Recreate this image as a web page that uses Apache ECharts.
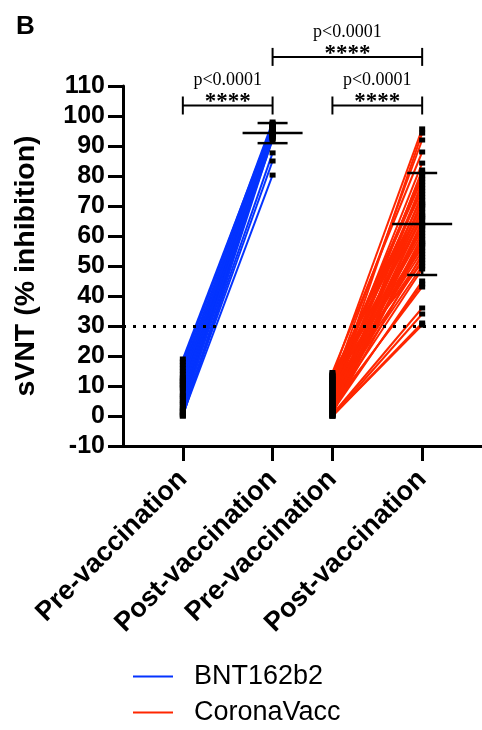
<!DOCTYPE html>
<html>
<head>
<meta charset="utf-8">
<script src="https://cdn.jsdelivr.net/npm/echarts@6/dist/echarts.min.js"></script>
<style>
html,body{margin:0;padding:0;background:#fff;}
#chart{width:482px;height:730px;}
</style>
</head>
<body>
<div id="chart"></div>
<script>
// ---- data ----
var categories = ['Pre-vaccination', 'Post-vaccination', 'Pre-vaccination', 'Post-vaccination'];
var categoryX = [2, 5, 7, 10];           // axis positions of the four columns
var yTicks = { min: -10, max: 110, step: 10 };
var threshold = 30;

var bntPre  = [19, 18, 17, 16, 15, 14, 12.5, 12, 11, 10.5, 10, 9.5, 9, 8, 7, 6.5, 6, 5, 4.5, 4, 3, 2.5, 2, 1.5, 1, 0.5, 0, 0, 13, 11.5];
var bntPost = [97, 96, 98, 95, 96.5, 97, 94, 95.5, 96, 93, 97.5, 94.5, 96, 95, 93.5, 97, 92, 96, 94, 95, 93, 96.5, 97, 87.7, 85, 80.3, 94, 92.5, 95, 96];

var cvPre  = [14.5, 14, 13.5, 13, 12.5, 12, 11.5, 11, 10.5, 10, 9.5, 9, 8.5, 8, 7.5, 7, 6.5, 6, 5.5, 5, 4.5, 4, 3.5, 3, 2.5, 2, 1.5, 1, 0.5, 0, 0, 0.5, 1, 2, 3, 4, 5, 6, 7, 8, 9, 10, 11, 12, 13, 1.5, 2.5, 3.5, 0, 0];
var cvPost = [88, 70, 95.7, 75, 66, 80, 62, 92, 58, 73, 68, 84.3, 55, 77, 61, 94.3, 52, 69, 64, 82, 57, 71, 49, 66.5, 74, 60, 54, 63.5, 36, 30.3, 78, 65, 59, 72, 63, 57.5, 67, 50, 76, 70.5, 81, 53, 79, 56, 51, 45, 44, 43, 34, 31];

var postMean = [94.3, 64];
var postSD   = [3.35, 17];

var groupNames = ['BNT162b2', 'CoronaVacc'];
var groupColors = ['#0433FF', '#FF2600'];

var brackets = [[2, 5, 103.5], [7, 10, 103.5], [5, 10, 119.7]];
var pLabels = ['p<0.0001', 'p<0.0001', 'p<0.0001'];
var starLabels = ['****', '****', '****'];

// ---- build option ----
var FONT = 'Liberation Sans, Arial, sans-serif';
var series = [];
function addPairs(pre, post, xi, name, color) {
  for (var i = 0; i < pre.length; i++) {
    series.push({
      type: 'line', name: name, silent: true, symbol: 'none', showSymbol: false, z: 2,
      data: [[categoryX[xi], pre[i]], [categoryX[xi + 1], post[i]]],
      lineStyle: { width: 2, color: color }, itemStyle: { color: color }
    });
  }
}
addPairs(bntPre, bntPost, 0, groupNames[0], groupColors[0]);
addPairs(cvPre, cvPost, 2, groupNames[1], groupColors[1]);

var pts = [];
bntPre.forEach(function (v) { pts.push([categoryX[0], v]); });
bntPost.forEach(function (v) { pts.push([categoryX[1], v]); });
cvPre.forEach(function (v) { pts.push([categoryX[2], v]); });
cvPost.forEach(function (v) { pts.push([categoryX[3], v]); });
series.push({
  type: 'scatter', silent: true, z: 5, symbol: 'rect', symbolSize: [6, 5],
  itemStyle: { color: '#000', opacity: 1 }, data: pts,
  markLine: {
    silent: true, symbol: 'none', animation: false,
    label: { show: false },
    lineStyle: { color: '#000', width: 3, type: [3, 7], opacity: 1 },
    data: [{ yAxis: threshold }]
  }
});

var errData = [[categoryX[1], postMean[0], postSD[0]], [categoryX[3], postMean[1], postSD[1]]];
series.push({
  type: 'custom', silent: true, z: 6, data: errData, encode: { x: 0, y: 1 },
  renderItem: function (params, api) {
    var x = api.value(0), m = api.value(1), s = api.value(2);
    var c = api.coord([x, m]), t = api.coord([x, m + s]), b = api.coord([x, m - s]);
    var st = { stroke: '#000', lineWidth: 2.5 };
    return { type: 'group', children: [
      { type: 'line', shape: { x1: c[0] - 30, y1: c[1], x2: c[0] + 30, y2: c[1] }, style: st },
      { type: 'line', shape: { x1: c[0], y1: t[1], x2: c[0], y2: b[1] }, style: st },
      { type: 'line', shape: { x1: c[0] - 15, y1: t[1], x2: c[0] + 15, y2: t[1] }, style: st },
      { type: 'line', shape: { x1: c[0] - 15, y1: b[1], x2: c[0] + 15, y2: b[1] }, style: st }
    ]};
  }
});

series.push({
  type: 'custom', silent: true, z: 6, clip: false,
  data: brackets.map(function (b, i) { return [b[0], b[2], b[1], i]; }),
  encode: { x: 0, y: 1 },
  renderItem: function (params, api) {
    var x1 = api.value(0), y = api.value(1), x2 = api.value(2), i = api.value(3);
    var a = api.coord([x1, y]), b = api.coord([x2, y]);
    var st = { stroke: '#000', lineWidth: 2 };
    var mid = (a[0] + b[0]) / 2;
    return { type: 'group', children: [
      { type: 'line', shape: { x1: a[0], y1: a[1], x2: b[0], y2: b[1] }, style: st },
      { type: 'line', shape: { x1: a[0], y1: a[1] - 9, x2: a[0], y2: a[1] + 9 }, style: st },
      { type: 'line', shape: { x1: b[0], y1: b[1] - 9, x2: b[0], y2: b[1] + 9 }, style: st },
      { type: 'text', style: { text: starLabels[i], x: mid, y: a[1] - 3, align: 'center', verticalAlign: 'middle',
          font: 'bold 23px "Liberation Serif", serif', fill: '#000' } },
      { type: 'text', style: { text: pLabels[i], x: mid, y: a[1] - 25, align: 'center', verticalAlign: 'middle',
          font: '18px "Liberation Serif", serif', fill: '#000' } }
    ]};
  }
});

function legendFor(i, top) {
  return {
    data: [groupNames[i]], left: 133, top: top, padding: 0,
    icon: 'rect', itemWidth: 40, itemHeight: 2,
    itemStyle: { color: groupColors[i] },
    textStyle: { fontFamily: FONT, fontSize: 27, color: '#000', padding: [0, 0, 0, 16] }
  };
}

var option = {
  animation: false,
  backgroundColor: '#fff',
  title: { text: 'B', left: 11, top: 9, textStyle: { fontFamily: FONT, fontWeight: 'bold', fontSize: 26, color: '#000' } },
  grid: { left: 123, top: 86, width: 360, height: 360, containLabel: false },
  legend: [legendFor(0, 663), legendFor(1, 699)],
  xAxis: {
    type: 'value', min: 0, max: 12,
    splitLine: { show: false },
    axisLine: { onZero: false, lineStyle: { color: '#000', width: 3 } },
    axisTick: { show: true, length: 15, customValues: categoryX, lineStyle: { color: '#000', width: 3 } },
    axisLabel: {
      customValues: categoryX, rotate: 45, margin: 29,
      fontFamily: FONT, fontWeight: 'bold', fontSize: 27, color: '#000',
      formatter: function (v) { var i = categoryX.indexOf(v); return i >= 0 ? categories[i] : ''; }
    }
  },
  yAxis: {
    type: 'value', min: yTicks.min, max: yTicks.max, interval: yTicks.step,
    name: 'sVNT (% inhibition)', nameLocation: 'middle', nameGap: 82,
    nameTextStyle: { fontFamily: FONT, fontWeight: 'bold', fontSize: 28.5, color: '#000' },
    splitLine: { show: false },
    axisLine: { show: true, onZero: false, lineStyle: { color: '#000', width: 3 } },
    axisTick: { show: true, length: 15, lineStyle: { color: '#000', width: 3 } },
    axisLabel: { margin: 18, fontFamily: FONT, fontWeight: 'bold', fontSize: 25, color: '#000' }
  },
  series: series
};

var chart = echarts.init(document.getElementById('chart'), null, { renderer: 'canvas' });
chart.setOption(option);
</script>
</body>
</html>
